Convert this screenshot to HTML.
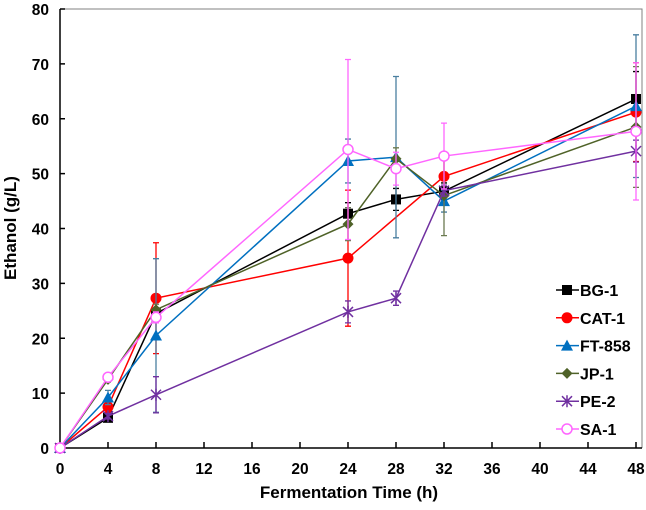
<!DOCTYPE html>
<html><head><meta charset="utf-8"><style>
body{margin:0;background:#fff;}
text{font-family:"Liberation Sans",Arial,sans-serif;font-weight:bold;}
</style></head><body>
<svg id="chart" width="646" height="505" xmlns="http://www.w3.org/2000/svg"></svg>
<script>
const times=[0,4,8,24,28,32,48];
const xTicks=[0,4,8,12,16,20,24,28,32,36,40,44,48];
const yTicks=[0,10,20,30,40,50,60,70,80];
const seriesNames=["BG-1","CAT-1","FT-858","JP-1","PE-2","SA-1"];
const bg1=[0,5.5,24.5,42.7,45.3,46.8,63.6];
const cat1=[0,7.5,27.3,34.6,null,49.5,61.2];
const ft858=[0,9.2,20.5,52.3,53.0,45.0,62.3];
const jp1=[0,12.5,25.2,40.8,52.7,46.0,58.5];
const pe2=[0,5.8,9.7,24.8,27.3,46.9,54.1];
const sa1=[0,12.9,23.8,54.4,50.9,53.2,57.7];
const bg1Err=[0,0.5,1,2,2,1.5,5];
const cat1Err=[0,1,10.1,12.4,null,3,9];
const ft858Err=[0,1.3,14,4,14.7,2,13];
const jp1Err=[0,0.5,1,3,2,7.3,11];
const pe2Err=[0,0.5,3.3,2,1.3,1,2];
const sa1Err=[0,0.5,1,16.4,3,6,12.5];
const colors=["#000000","#ff0000","#0070c0","#4f6228","#7030a0","#ff66ff"];
const markers=["square","circle","triangle","diamond","star","ocircle"];
const allVals=[bg1,cat1,ft858,jp1,pe2,sa1];
const allErr=[bg1Err,cat1Err,ft858Err,jp1Err,pe2Err,sa1Err];
const errColors=["#000000","#ff0000","#4a7fa0","#6b7a50","#7030a0","#ff66ff"];

const NS="http://www.w3.org/2000/svg";
const svg=document.getElementById("chart");
const X0=60,X1=636,Y0=448,Y1=9;
const xs=v=>X0+(v/48)*(X1-X0);
const ys=v=>Y0-(v/80)*(Y0-Y1);
function mk(tag,attrs,parent){const e=document.createElementNS(NS,tag);for(const k in attrs)e.setAttribute(k,attrs[k]);(parent||svg).appendChild(e);return e;}

let frame=mk("path",{d:`M${X0},${Y1}H642V${Y0}`,fill:"none",stroke:"#808080","stroke-width":1});


let ax=mk("line",{x1:X0,y1:Y1,x2:X0,y2:Y0,stroke:"#000","stroke-width":1.5});


let axx=mk("line",{x1:X0,y1:Y0,x2:642,y2:Y0,stroke:"#000","stroke-width":1.5});


yTicks.forEach(v=>{
  mk("line",{x1:X0,y1:ys(v),x2:X0+5,y2:ys(v),stroke:"#000","stroke-width":1.5});
  const t=mk("text",{x:49,y:ys(v)+6,"text-anchor":"end","font-size":15.5});t.textContent=v;
  
  
});
xTicks.forEach(v=>{
  mk("line",{x1:xs(v),y1:Y0,x2:xs(v),y2:Y0-6,stroke:"#000","stroke-width":1.5});
  const t=mk("text",{x:xs(v),y:474,"text-anchor":"middle","font-size":15.5});t.textContent=v;
  
  
});
let xt=mk("text",{x:349,y:498,"text-anchor":"middle","font-size":17});xt.textContent="Fermentation Time (h)";


let yt=mk("text",{x:0,y:0,"text-anchor":"middle","font-size":17,transform:`translate(16,228) rotate(-90)`});yt.textContent="Ethanol (g/L)";



function marker(type,cx,cy,c,g){
  if(type==="square")return mk("rect",{x:cx-5,y:cy-5,width:10,height:10,fill:c},g);
  if(type==="circle")return mk("circle",{cx,cy,r:5.5,fill:c},g);
  if(type==="triangle")return mk("path",{d:`M${cx},${cy-6}L${cx+6},${cy+5}L${cx-6},${cy+5}Z`,fill:c},g);
  if(type==="diamond")return mk("path",{d:`M${cx},${cy-5.5}L${cx+5.5},${cy}L${cx},${cy+5.5}L${cx-5.5},${cy}Z`,fill:c},g);
  if(type==="star")return mk("path",{d:`M${cx-5},${cy-5}L${cx+5},${cy+5}M${cx-5},${cy+5}L${cx+5},${cy-5}M${cx},${cy-6}V${cy+6}`,stroke:c,"stroke-width":1.5,fill:"none"},g);
  return mk("circle",{cx,cy,r:5,fill:"#fff",stroke:c,"stroke-width":1.5},g);
}
allVals.forEach((vals,i)=>{
  const g=mk("g",{});
  
  
  const err=allErr[i];
  vals.forEach((v,j)=>{
    if(v===null||!err[j])return;
    const x=xs(times[j]),a=ys(v+err[j]),b=ys(Math.max(0,v-err[j]));
    mk("path",{d:`M${x},${a}V${b}M${x-3},${a}H${x+3}M${x-3},${b}H${x+3}`,stroke:errColors[i],"stroke-width":1.3,fill:"none"},g);
  });
  let d="";
  vals.forEach((v,j)=>{if(v===null)return;d+=(d?"L":"M")+xs(times[j])+","+ys(v);});
  mk("path",{d,fill:"none",stroke:colors[i],"stroke-width":1.5},g);
  vals.forEach((v,j)=>{
    if(v===null)return;
    const m=marker(markers[i],xs(times[j]),ys(v),colors[i],g);
    
    
  });
  const ly=290+i*27.8;
  const lg=mk("g",{});
  
  
  mk("line",{x1:556,y1:ly,x2:579,y2:ly,stroke:colors[i],"stroke-width":1.5},lg);
  marker(markers[i],567,ly,colors[i],lg);
  const t=mk("text",{x:580,y:ly+6,"font-size":16},lg);t.textContent=seriesNames[i];
});
</script>
</body></html>
